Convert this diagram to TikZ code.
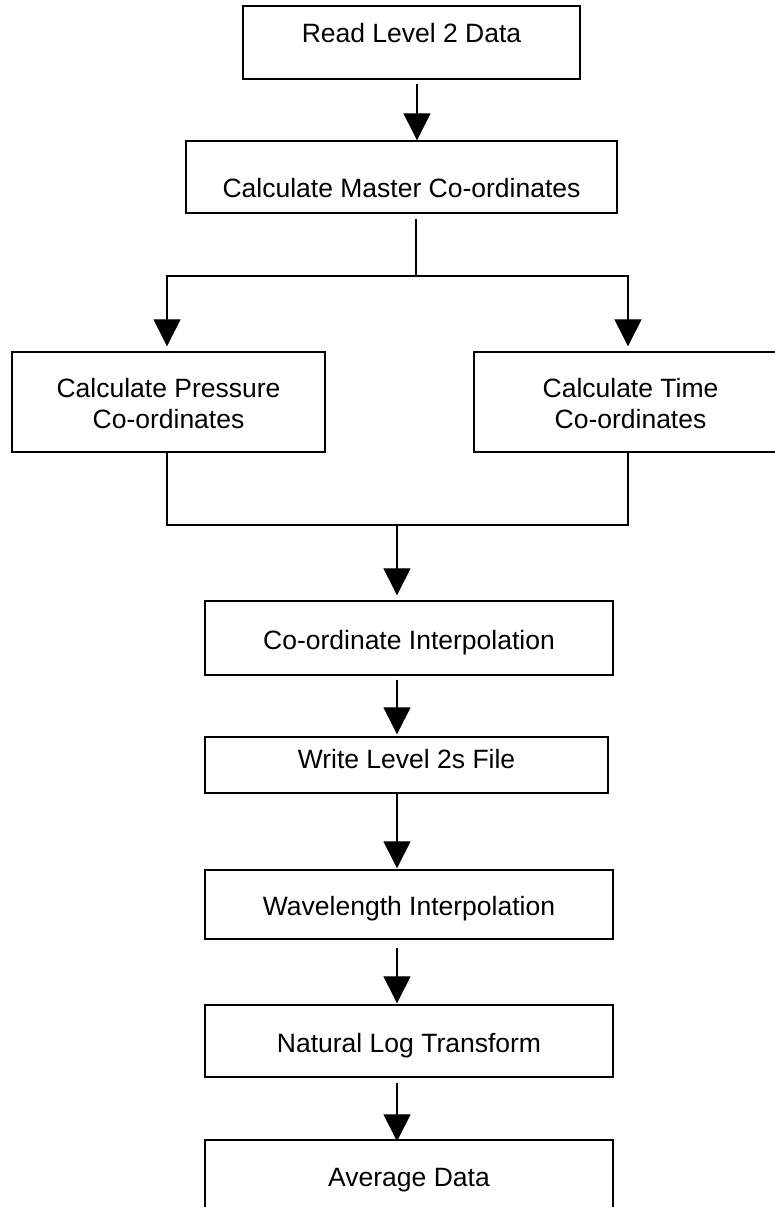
\documentclass[tikz,border=0pt]{standalone}
\usepackage{fontspec}
\setmainfont{Liberation Sans}
\usetikzlibrary{arrows.meta}
\begin{document}
\begin{tikzpicture}[x=1pt,y=-1pt,
  box/.style={draw, line width=1.4pt, rectangle, inner sep=0pt, align=center,
    font=\fontsize{26.5}{31}\selectfont},
  conn/.style={line width=1.3pt},
  arr/.style={line width=1.3pt, -{Triangle[width=27pt,length=27pt]}}]
\useasboundingbox (0,0) rectangle (775,1207);
\clip (0,0) rectangle (775,1207);
\node[box, line width=2pt, minimum width=337pt, minimum height=73pt, text height=12pt, text depth=11pt] (B1) at (411.5,42.5) {Read Level 2 Data};
\node[box, minimum width=431pt, minimum height=72pt, text height=40pt, text depth=0pt] (B2) at (401.5,177) {Calculate Master Co-ordinates};
\node[box, minimum width=313pt, minimum height=100pt, text height=52pt, text depth=0pt] (LP) at (168.5,402) {Calculate Pressure\\Co-ordinates};
\node[box, minimum width=313pt, minimum height=100pt, text height=52pt, text depth=0pt] (RT) at (630.5,402) {Calculate Time\\Co-ordinates};
\node[box, minimum width=408pt, minimum height=74pt, text height=22pt, text depth=0pt] (CI) at (409,638) {Co-ordinate Interpolation};
\node[box, minimum width=403pt, minimum height=56pt, text height=13pt, text depth=7pt] (WL) at (406.5,765) {Write Level 2s File};
\node[box, minimum width=408pt, minimum height=69pt, text height=21pt, text depth=0pt] (WI) at (409,904.5) {Wavelength Interpolation};
\node[box, minimum width=408pt, minimum height=72pt, text height=22pt, text depth=0pt] (NL) at (409,1041) {Natural Log Transform};
\node[box, minimum width=408pt, minimum height=90pt, text height=11pt, text depth=9pt] (AD) at (409,1185) {Average Data};
\coordinate (split) at (416,276);
\coordinate (merge) at (397,525);
\draw[arr] ([xshift=5.5pt,yshift=-4pt]B1.south) -- ([xshift=15.5pt]B2.north);
\draw[conn] ([xshift=14.5pt,yshift=-5pt]B2.south) -- (split);
\draw[arr] (split) -| ([xshift=-1.5pt,yshift=5pt]LP.north);
\draw[arr] (split) -| ([xshift=-2.5pt,yshift=5pt]RT.north);
\draw[conn] ([xshift=-1.5pt]LP.south) |- (merge) -| ([xshift=-2.5pt]RT.south);
\draw[arr] (merge) -- ([xshift=-12pt,yshift=5pt]CI.north);
\draw[arr] ([xshift=-12pt,yshift=-4pt]CI.south) -- ([xshift=-9.5pt,yshift=2pt]WL.north);
\draw[arr] ([xshift=-9.5pt]WL.south) -- ([xshift=-12pt,yshift=1pt]WI.north);
\draw[arr] ([xshift=-12pt,yshift=-8pt]WI.south) -- ([xshift=-12pt,yshift=1pt]NL.north);
\draw[arr] ([xshift=-12pt,yshift=-5pt]NL.south) -- ([xshift=-12pt,yshift=-2pt]AD.north);
\end{tikzpicture}
\end{document}
